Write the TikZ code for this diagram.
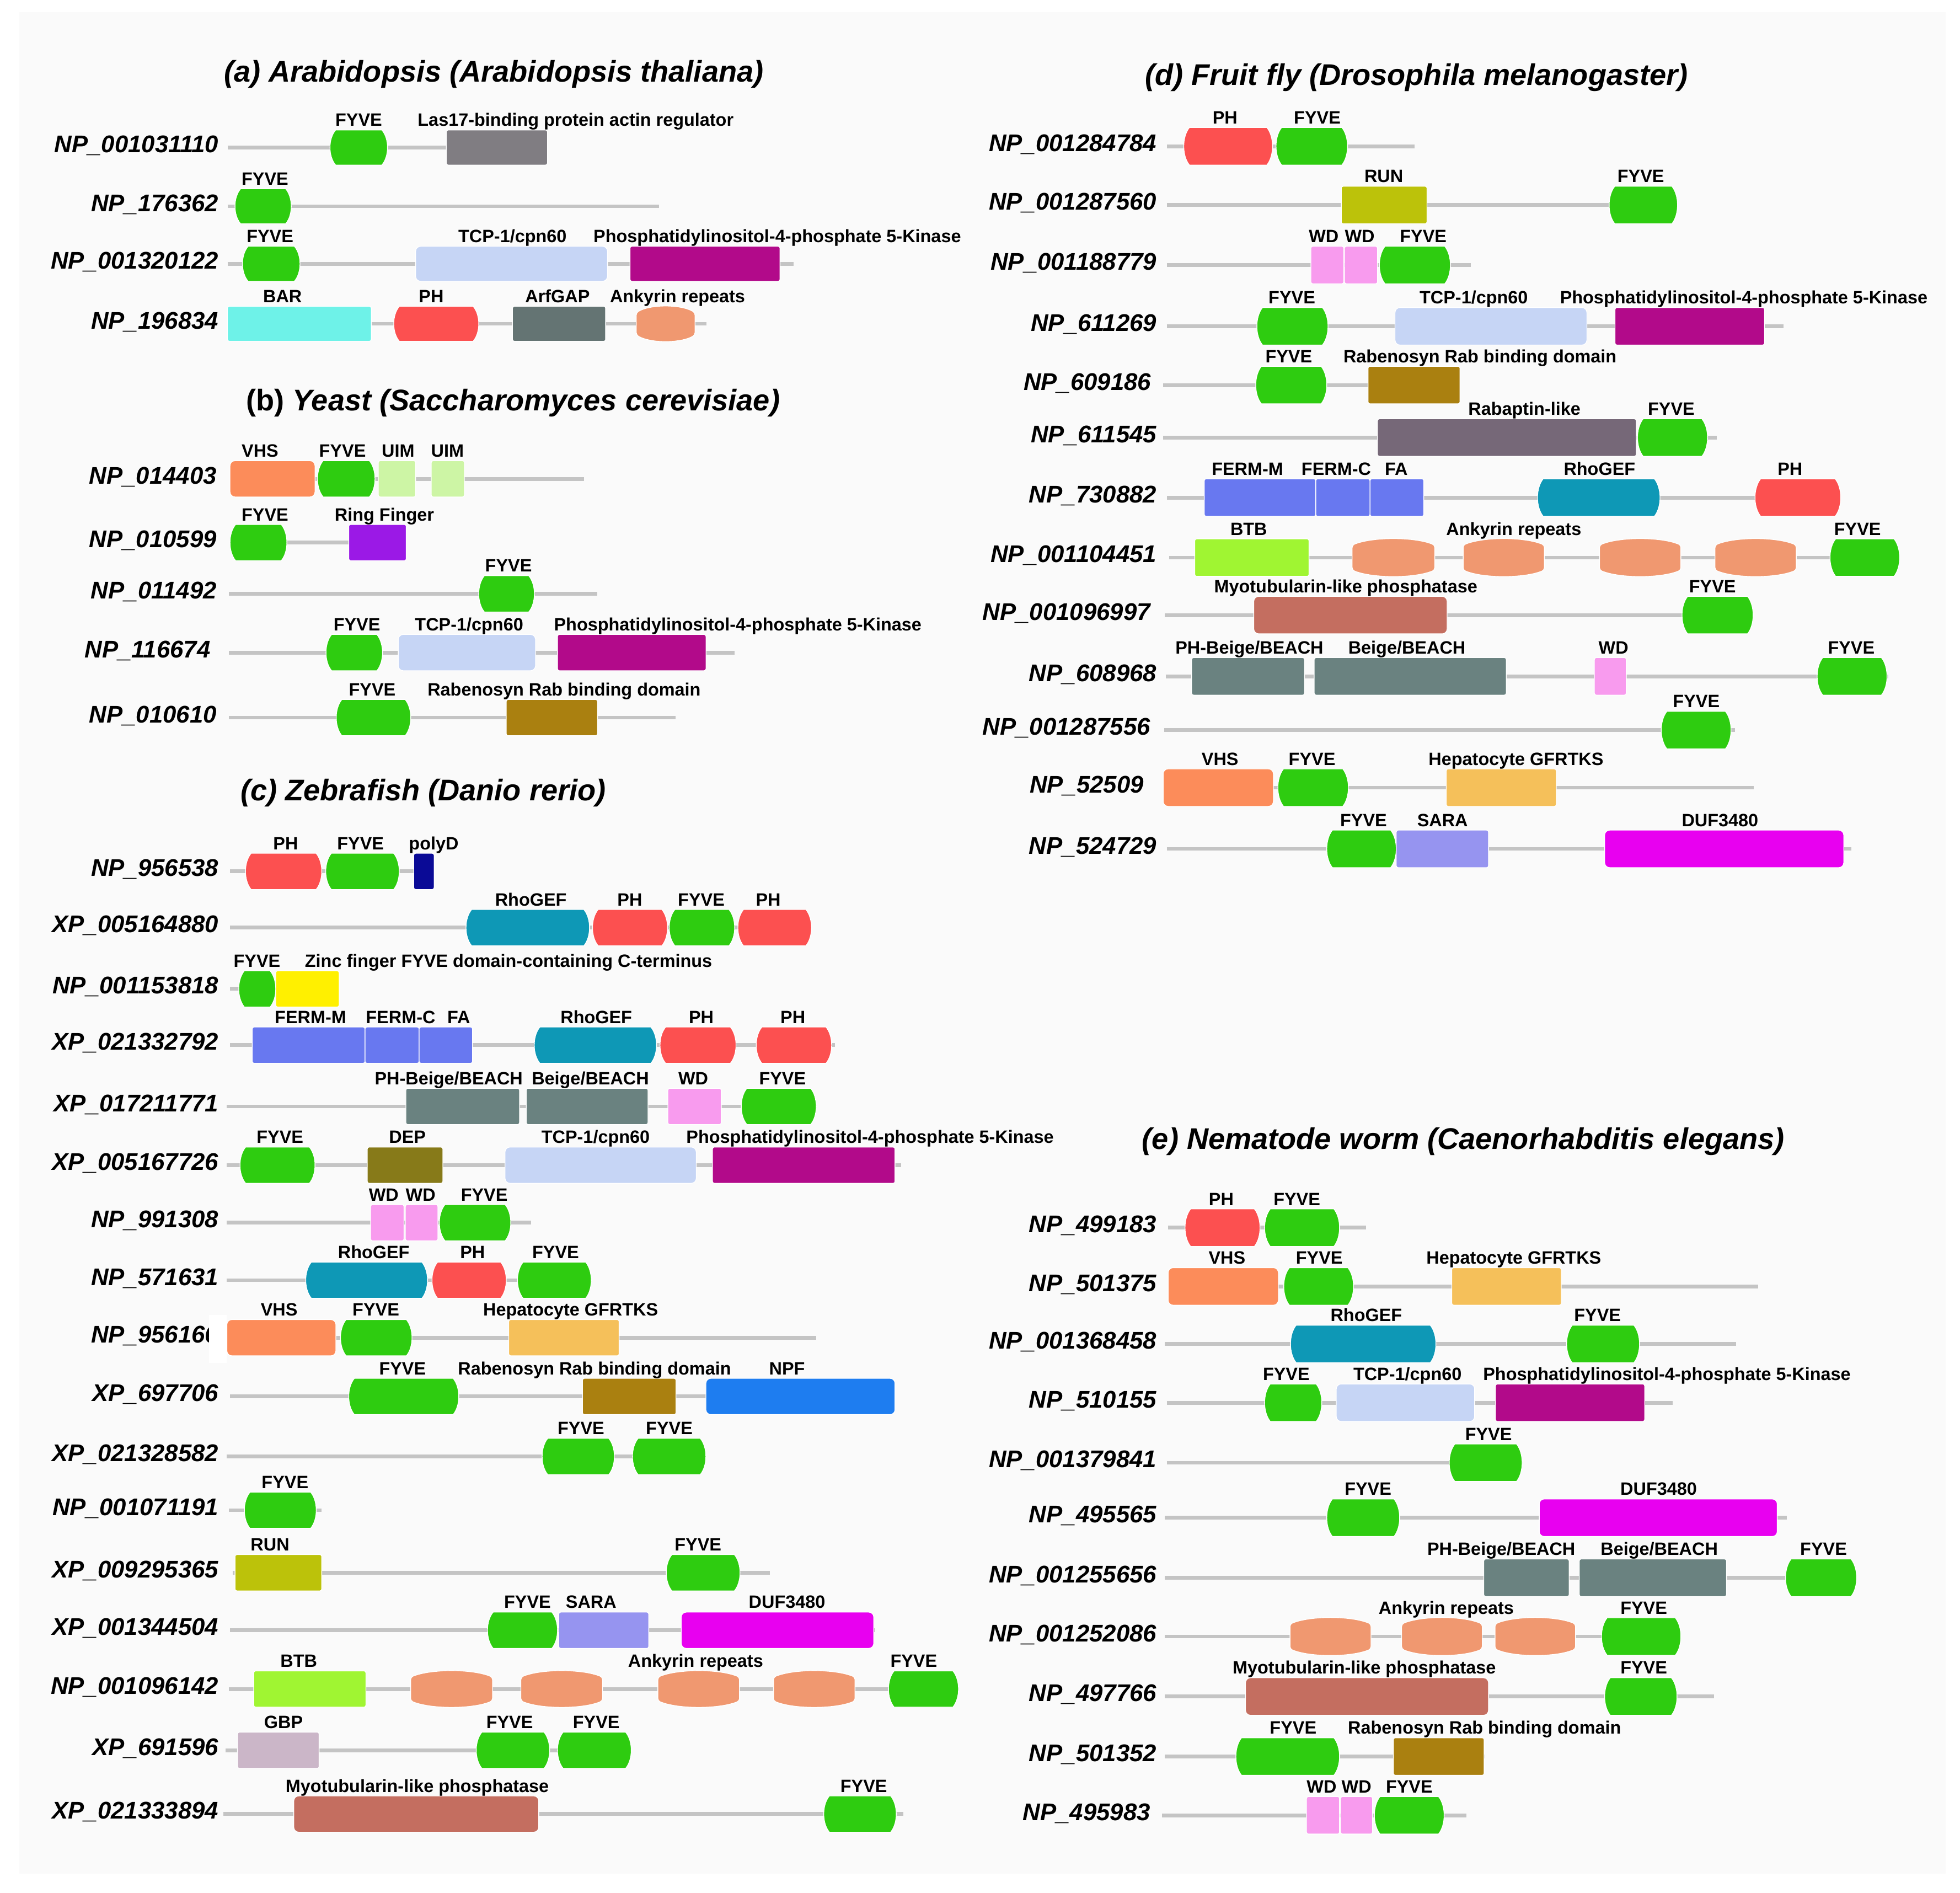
\documentclass[tikz,border=0pt]{standalone}
\usepackage{fontspec}
\setmainfont{Liberation Sans}
\definecolor{cFYVE}{RGB}{46,204,16}
\definecolor{cPH}{RGB}{252,80,80}
\definecolor{cRho}{RGB}{14,152,182}
\definecolor{cAnk}{RGB}{240,152,112}
\definecolor{cBAR}{RGB}{110,242,232}
\definecolor{cArf}{RGB}{100,116,115}
\definecolor{cLas}{RGB}{128,125,130}
\definecolor{cTCP}{RGB}{198,213,245}
\definecolor{cPIK}{RGB}{178,10,138}
\definecolor{cVHS}{RGB}{252,140,90}
\definecolor{cUIM}{RGB}{205,245,165}
\definecolor{cRing}{RGB}{155,25,230}
\definecolor{cRab}{RGB}{170,128,16}
\definecolor{cPolyD}{RGB}{10,10,150}
\definecolor{cZnF}{RGB}{255,240,0}
\definecolor{cFERM}{RGB}{104,120,240}
\definecolor{cBeige}{RGB}{106,130,128}
\definecolor{cWD}{RGB}{248,155,238}
\definecolor{cDEP}{RGB}{135,122,25}
\definecolor{cHep}{RGB}{245,192,90}
\definecolor{cNPF}{RGB}{30,125,240}
\definecolor{cRUN}{RGB}{188,194,10}
\definecolor{cSARA}{RGB}{150,148,240}
\definecolor{cDUF}{RGB}{232,0,240}
\definecolor{cBTB}{RGB}{160,245,50}
\definecolor{cGBP}{RGB}{203,182,200}
\definecolor{cMyo}{RGB}{196,110,96}
\definecolor{cRabap}{RGB}{118,104,120}
\definecolor{cBack}{RGB}{196,196,196}
\definecolor{cBg}{RGB}{250,250,250}
\tikzset{
  backbone/.style={draw=cBack, line width=3},
  domfill/.style={fill=#1, draw=white, line width=0.6},
  domlabel/.style={anchor=base, inner sep=0, font=\bfseries\fontsize{14.3}{15}\selectfont},
  protname/.style={anchor=base east, inner sep=0, font=\bfseries\itshape\fontsize{19.3}{20}\selectfont},
  paneltitle/.style={anchor=base, inner sep=0, font=\bfseries\itshape\fontsize{23.9}{25}\selectfont}
}
\def\hh{14}
\def\bd{4.5}
\def\ar{5}
\newcommand{\bbone}[3]{\draw[backbone] (#1,#3) -- (#2,#3);}
\newcommand{\pname}[3]{\node[protname] at (#1,{#2+4}) {#3};}
\newcommand{\dlab}[3]{\node[domlabel] at (#1,{#2-\hh-3}) {#3};}
\newcommand{\domR}[4]{\path[domfill=#4, rounded corners=1.5] (#1,{#3-\hh}) rectangle (#2,{#3+\hh});}
\newcommand{\domS}[4]{\path[domfill=#4, rounded corners=4] (#1,{#3-\hh}) rectangle (#2,{#3+\hh});}
\newcommand{\domF}[4]{\path[domfill=#4] ({#1+\bd},{#3-\hh}) -- ({#2-\bd},{#3-\hh}) .. controls ({#2+\bd/3},{#3-\hh/2}) and ({#2+\bd/3},{#3+\hh/2}) .. ({#2-\bd},{#3+\hh}) -- ({#1+\bd},{#3+\hh}) .. controls ({#1-\bd/3},{#3+\hh/2}) and ({#1-\bd/3},{#3-\hh/2}) .. ({#1+\bd},{#3-\hh}) -- cycle;}
\newcommand{\domA}[4]{\path[domfill=#4, rounded corners=2] (#1,{#3-\hh+\ar}) .. controls ({#1+(#2-#1)/4},{#3-\hh-\ar/3}) and ({#2-(#2-#1)/4},{#3-\hh-\ar/3}) .. (#2,{#3-\hh+\ar}) -- (#2,{#3+\hh-\ar}) .. controls ({#2-(#2-#1)/4},{#3+\hh+\ar/3}) and ({#1+(#2-#1)/4},{#3+\hh+\ar/3}) .. (#1,{#3+\hh-\ar}) -- cycle;}
\begin{document}
\begin{tikzpicture}[x=1pt,y=-1pt]
\useasboundingbox (0,0) rectangle (1568,1514);
\fill[white] (0,0) rectangle (1568,1514);
\fill[cBg] (15.5,9.7) rectangle (1556.5,1498.8);

% ================= (a) =================
\def\hh{14}
\node[paneltitle] (ta) at (395,65.6) {(a) Arabidopsis (Arabidopsis thaliana)};
% a1
\bbone{182}{438}{118}
\domF{264}{310}{118}{cFYVE}
\domR{357}{438}{118}{cLas}
\dlab{287}{118}{FYVE}
\dlab{460.5}{118}{Las17-binding protein actin regulator}
\pname{175}{118}{NP\_001031110}
% a2
\bbone{182}{527}{165}
\domF{188}{233}{165}{cFYVE}
\dlab{212}{165}{FYVE}
\pname{175}{165}{NP\_176362}
% a3
\bbone{182}{635}{211}
\domF{194}{240}{211}{cFYVE}
\domS{332.5}{486}{211}{cTCP}
\domR{504}{624}{211}{cPIK}
\dlab{216}{211}{FYVE}
\dlab{410}{211}{TCP-1/cpn60}
\dlab{621.8}{211}{Phosphatidylinositol-4-phosphate 5-Kinase}
\pname{175}{211}{NP\_001320122}
% a4
\bbone{182}{565}{259}
\domR{182}{297}{259}{cBAR}
\domF{315}{383}{259}{cPH}
\domR{410}{484.5}{259}{cArf}
\domA{509}{556}{259}{cAnk}
\dlab{226}{259}{BAR}
\dlab{345}{259}{PH}
\dlab{446}{259}{ArfGAP}
\dlab{542}{259}{Ankyrin repeats}
\pname{175}{259}{NP\_196834}

% ================= (b) =================
\def\hh{14.5}
\node[paneltitle] (tb) at (410.5,328.6) {{\upshape (b)} Yeast (Saccharomyces cerevisiae)};
% b1
\bbone{184}{467}{383}
\domS{184}{252}{383}{cVHS}
\domF{254}{300}{383}{cFYVE}
\domR{302.6}{332.5}{383}{cUIM}
\domR{345}{371.5}{383}{cUIM}
\dlab{208}{383}{VHS}
\dlab{274}{383}{FYVE}
\dlab{318.5}{383}{UIM}
\dlab{358}{383}{UIM}
\pname{173.5}{383}{NP\_014403}
% b2
\bbone{184}{325}{434}
\domF{184}{229.5}{434}{cFYVE}
\domR{279}{325}{434}{cRing}
\dlab{212}{434}{FYVE}
\dlab{307.5}{434}{Ring Finger}
\pname{173.5}{434}{NP\_010599}
% b3
\bbone{183}{478}{475}
\domF{383}{427.5}{475}{cFYVE}
\dlab{406.8}{475}{FYVE}
\pname{173.5}{475}{NP\_011492}
% b4
\bbone{183}{587.5}{522}
\domF{260.8}{306}{522}{cFYVE}
\domS{318.6}{428.4}{522}{cTCP}
\domR{446}{564.8}{522}{cPIK}
\dlab{285.5}{522}{FYVE}
\dlab{375.3}{522}{TCP-1/cpn60}
\dlab{590.2}{522}{Phosphatidylinositol-4-phosphate 5-Kinase}
\pname{168.5}{522}{NP\_116674}
% b5
\bbone{183}{540.5}{574}
\domF{269}{328.6}{574}{cFYVE}
\domR{405}{478}{574}{cRab}
\dlab{297.8}{574}{FYVE}
\dlab{451.3}{574}{Rabenosyn Rab binding domain}
\pname{173.5}{574}{NP\_010610}

% ================= (c) =================
\def\hh{14.5}
\node[paneltitle] (tc) at (338.6,640.6) {(c) Zebrafish (Danio rerio)};
% c1
\bbone{184}{347}{697}
\domF{196.4}{257.4}{697}{cPH}
\domF{260.6}{319.4}{697}{cFYVE}
\domR{331}{347.3}{697}{cPolyD}
\dlab{228.5}{697}{PH}
\dlab{288.4}{697}{FYVE}
\dlab{347}{697}{polyD}
\pname{175}{697}{NP\_956538}
% c2
\bbone{184}{649}{742}
\domF{372.8}{471.6}{742}{cRho}
\domF{474}{534}{742}{cPH}
\domF{535.4}{587.7}{742}{cFYVE}
\domF{590.3}{649.2}{742}{cPH}
\dlab{424.7}{742}{RhoGEF}
\dlab{503.8}{742}{PH}
\dlab{561}{742}{FYVE}
\dlab{614.6}{742}{PH}
\pname{175}{742}{XP\_005164880}
% c3
\bbone{184}{271}{791}
\domF{191}{220.6}{791}{cFYVE}
\domR{220.6}{271.3}{791}{cZnF}
\dlab{205.6}{791}{FYVE}
\dlab{406.8}{791}{Zinc finger FYVE domain-containing C-terminus}
\pname{175}{791}{NP\_001153818}
% c4
\bbone{184}{668}{836}
\domR{201.8}{292}{836}{cFERM}
\domR{292}{335.3}{836}{cFERM}
\domR{335.3}{378}{836}{cFERM}
\domF{427.4}{525.2}{836}{cRho}
\domF{528}{588.8}{836}{cPH}
\domF{605}{665.3}{836}{cPH}
\dlab{248.4}{836}{FERM-M}
\dlab{320.5}{836}{FERM-C}
\dlab{367}{836}{FA}
\dlab{477}{836}{RhoGEF}
\dlab{561}{836}{PH}
\dlab{634.3}{836}{PH}
\pname{175}{836}{XP\_021332792}
% c5
\bbone{181.5}{652}{885}
\domR{324.7}{415.6}{885}{cBeige}
\domR{421}{518.4}{885}{cBeige}
\domR{534.3}{577}{885}{cWD}
\domF{593}{653}{885}{cFYVE}
\dlab{359}{885}{PH-Beige/BEACH}
\dlab{472.3}{885}{Beige/BEACH}
\dlab{554.6}{885}{WD}
\dlab{626}{885}{FYVE}
\pname{175}{885}{XP\_017211771}
% c6
\bbone{181.5}{721}{932}
\domF{192}{252}{932}{cFYVE}
\domR{293.8}{354.3}{932}{cDEP}
\domS{404}{557}{932}{cTCP}
\domR{570}{716}{932}{cPIK}
\dlab{224}{932}{FYVE}
\dlab{325.9}{932}{DEP}
\dlab{476.5}{932}{TCP-1/cpn60}
\dlab{696}{932}{Phosphatidylinositol-4-phosphate 5-Kinase}
\pname{175}{932}{XP\_005167726}
% c7
\bbone{181.5}{424.7}{978}
\domR{296.5}{323.2}{978}{cWD}
\domR{324.3}{350.3}{978}{cWD}
\domF{351.5}{408.6}{978}{cFYVE}
\dlab{307}{978}{WD}
\dlab{336.5}{978}{WD}
\dlab{387.4}{978}{FYVE}
\pname{175}{978}{NP\_991308}
% c8
\bbone{181.5}{473}{1024}
\domF{244.6}{342}{1024}{cRho}
\domF{345.6}{405}{1024}{cPH}
\domF{414}{473}{1024}{cFYVE}
\dlab{299}{1024}{RhoGEF}
\dlab{378}{1024}{PH}
\dlab{444.5}{1024}{FYVE}
\pname{175}{1024}{NP\_571631}
% c9
\pname{175}{1070}{NP\_956166}
\fill[white] (167,1052) rectangle (181.5,1090);
\bbone{181.5}{653}{1070}
\domS{181.5}{268.7}{1070}{cVHS}
\domF{272.4}{329.6}{1070}{cFYVE}
\domR{407}{495.3}{1070}{cHep}
\dlab{223.3}{1070}{VHS}
\dlab{300.7}{1070}{FYVE}
\dlab{456.5}{1070}{Hepatocyte GFRTKS}
% c10
\bbone{184}{716}{1117}
\domF{279}{367}{1117}{cFYVE}
\domR{466}{540.8}{1117}{cRab}
\domS{564.7}{716}{1117}{cNPF}
\dlab{322}{1117}{FYVE}
\dlab{475.6}{1117}{Rabenosyn Rab binding domain}
\dlab{629.6}{1117}{NPF}
\pname{175}{1117}{XP\_697706}
% c11
\bbone{181.5}{564.7}{1165}
\domF{433.7}{491.5}{1165}{cFYVE}
\domF{506}{564.7}{1165}{cFYVE}
\dlab{464.8}{1165}{FYVE}
\dlab{535.4}{1165}{FYVE}
\pname{175}{1165}{XP\_021328582}
% c12
\bbone{183}{257.4}{1208}
\domF{195.5}{253}{1208}{cFYVE}
\dlab{228}{1208}{FYVE}
\pname{175}{1208}{NP\_001071191}
% c13
\bbone{186}{616}{1258}
\domR{188}{257.4}{1258}{cRUN}
\domF{533}{592}{1258}{cFYVE}
\dlab{216}{1258}{RUN}
\dlab{558.4}{1258}{FYVE}
\pname{175}{1258}{XP\_009295365}
% c14
\bbone{184}{700}{1304}
\domF{390}{446}{1304}{cFYVE}
\domR{447}{519}{1304}{cSARA}
\domS{545}{699}{1304}{cDUF}
\dlab{422}{1304}{FYVE}
\dlab{472.9}{1304}{SARA}
\dlab{629.6}{1304}{DUF3480}
\pname{175}{1304}{XP\_001344504}
% c15
\bbone{183}{767}{1351}
\domR{203}{292.7}{1351}{cBTB}
\domA{328.5}{394}{1351}{cAnk}
\domA{416.7}{482}{1351}{cAnk}
\domA{526.3}{591.6}{1351}{cAnk}
\domA{618.8}{684}{1351}{cAnk}
\domF{710.8}{766.8}{1351}{cFYVE}
\dlab{239}{1351}{BTB}
\dlab{556.5}{1351}{Ankyrin repeats}
\dlab{731}{1351}{FYVE}
\pname{175}{1351}{NP\_001096142}
% c16
\bbone{180.5}{505}{1400}
\domR{190}{255.3}{1400}{cGBP}
\domF{381}{439.7}{1400}{cFYVE}
\domF{446}{505}{1400}{cFYVE}
\dlab{226.8}{1400}{GBP}
\dlab{407.7}{1400}{FYVE}
\dlab{477}{1400}{FYVE}
\pname{175}{1400}{XP\_691596}
% c17
\bbone{178.8}{722.5}{1451}
\domS{235}{431}{1451}{cMyo}
\domF{659}{717}{1451}{cFYVE}
\dlab{333.8}{1451}{Myotubularin-like phosphatase}
\dlab{691}{1451}{FYVE}
\pname{175}{1451}{XP\_021333894}

% ================= (d) =================
\def\hh{15}
\node[paneltitle] (td) at (1133.2,68.2) {(d) Fruit fly (Drosophila melanogaster)};
% d1
\bbone{933.5}{1131.5}{117}
\domF{947}{1018}{117}{cPH}
\domF{1020.8}{1078}{117}{cFYVE}
\dlab{980}{117}{PH}
\dlab{1053.8}{117}{FYVE}
\pname{925.4}{117}{NP\_001284784}
% d2
\bbone{933.5}{1342}{164}
\domR{1073}{1141.6}{164}{cRUN}
\domF{1287.3}{1342}{164}{cFYVE}
\dlab{1107}{164}{RUN}
\dlab{1312.6}{164}{FYVE}
\pname{925.4}{164}{NP\_001287560}
% d3
\bbone{933.5}{1176.6}{212}
\domR{1048.7}{1075}{212}{cWD}
\domR{1075.6}{1102}{212}{cWD}
\domF{1103.5}{1160.3}{212}{cFYVE}
\dlab{1059}{212}{WD}
\dlab{1087.8}{212}{WD}
\dlab{1138.6}{212}{FYVE}
\pname{925.4}{212}{NP\_001188779}
% d4
\bbone{933.5}{1427}{261}
\domF{1005.5}{1062.4}{261}{cFYVE}
\domS{1116}{1269.5}{261}{cTCP}
\domR{1292}{1411.6}{261}{cPIK}
\dlab{1033.5}{261}{FYVE}
\dlab{1179}{261}{TCP-1/cpn60}
\dlab{1395}{261}{Phosphatidylinositol-4-phosphate 5-Kinase}
\pname{925.4}{261}{NP\_611269}
% d5
\bbone{930.5}{1168}{308}
\domF{1004.6}{1061.4}{308}{cFYVE}
\domR{1094.4}{1168}{308}{cRab}
\dlab{1031}{308}{FYVE}
\dlab{1184}{308}{Rabenosyn Rab binding domain}
\pname{921}{308}{NP\_609186}
% d6
\bbone{930.5}{1373.6}{350}
\domR{1102}{1309}{350}{cRabap}
\domF{1310}{1366}{350}{cFYVE}
\dlab{1219.5}{350}{Rabaptin-like}
\dlab{1337}{350}{FYVE}
\pname{925.4}{350}{NP\_611545}
% d7
\bbone{933.5}{1472.6}{398}
\domR{963.4}{1052.6}{398}{cFERM}
\domR{1052.6}{1096}{398}{cFERM}
\domR{1096}{1139}{398}{cFERM}
\domF{1230}{1328}{398}{cRho}
\domF{1404}{1472.6}{398}{cPH}
\dlab{998}{398}{FERM-M}
\dlab{1069}{398}{FERM-C}
\dlab{1117}{398}{FA}
\dlab{1279.6}{398}{RhoGEF}
\dlab{1432}{398}{PH}
\pname{925.4}{398}{NP\_730882}
% d8
\bbone{935.5}{1518}{446}
\domR{955.8}{1047.2}{446}{cBTB}
\domA{1081.7}{1147.8}{446}{cAnk}
\domA{1170.5}{1235.5}{446}{cAnk}
\domA{1279.6}{1344.7}{446}{cAnk}
\domA{1372}{1437}{446}{cAnk}
\domF{1464}{1519.7}{446}{cFYVE}
\dlab{999}{446}{BTB}
\dlab{1211}{446}{Ankyrin repeats}
\dlab{1486}{446}{FYVE}
\pname{925.4}{446}{NP\_001104451}
% d9
\bbone{932}{1401.5}{492}
\domS{1003}{1157.7}{492}{cMyo}
\domF{1345.6}{1402.5}{492}{cFYVE}
\dlab{1076.6}{492}{Myotubularin-like phosphatase}
\dlab{1370}{492}{FYVE}
\pname{920.4}{492}{NP\_001096997}
% d10
\bbone{932.5}{1510.6}{541}
\domR{953.3}{1043.6}{541}{cBeige}
\domR{1051.3}{1205}{541}{cBeige}
\domR{1275.5}{1301}{541}{cWD}
\domF{1453.7}{1509.6}{541}{cFYVE}
\dlab{999.5}{541}{PH-Beige/BEACH}
\dlab{1125.5}{541}{Beige/BEACH}
\dlab{1290.8}{541}{WD}
\dlab{1481}{541}{FYVE}
\pname{925.4}{541}{NP\_608968}
% d11
\bbone{931.5}{1387.8}{584}
\domF{1329}{1384.8}{584}{cFYVE}
\dlab{1357}{584}{FYVE}
\pname{920.4}{584}{NP\_001287556}
% d12
\bbone{930.5}{1403}{630}
\domS{930.5}{1018.7}{630}{cVHS}
\domF{1022.3}{1078.7}{630}{cFYVE}
\domR{1157}{1245}{630}{cHep}
\dlab{976}{630}{VHS}
\dlab{1049.6}{630}{FYVE}
\dlab{1212.8}{630}{Hepatocyte GFRTKS}
\pname{915.2}{630}{NP\_52509}
% d13
\bbone{933.5}{1481}{679}
\domF{1061.4}{1117}{679}{cFYVE}
\domR{1117}{1190.8}{679}{cSARA}
\domS{1283.7}{1475}{679}{cDUF}
\dlab{1090.8}{679}{FYVE}
\dlab{1154}{679}{SARA}
\dlab{1376}{679}{DUF3480}
\pname{925.4}{679}{NP\_524729}

% ================= (e) =================
\def\hh{15}
\node[paneltitle] (te) at (1170.6,919.2) {(e) Nematode worm (Caenorhabditis elegans)};
% e1
\bbone{934.5}{1093}{982}
\domF{948}{1008}{982}{cPH}
\domF{1011.7}{1071.6}{982}{cFYVE}
\dlab{977}{982}{PH}
\dlab{1037.5}{982}{FYVE}
\pname{925.4}{982}{NP\_499183}
% e2
\bbone{934.5}{1406.5}{1029}
\domS{934.5}{1022.7}{1029}{cVHS}
\domF{1027}{1082.8}{1029}{cFYVE}
\domR{1161.4}{1249}{1029}{cHep}
\dlab{981.6}{1029}{VHS}
\dlab{1055.4}{1029}{FYVE}
\dlab{1211}{1029}{Hepatocyte GFRTKS}
\pname{925.4}{1029}{NP\_501375}
% e3
\bbone{932}{1389}{1075}
\domF{1032.4}{1148.7}{1075}{cRho}
\domF{1253.3}{1311.6}{1075}{cFYVE}
\dlab{1093}{1075}{RhoGEF}
\dlab{1278}{1075}{FYVE}
\pname{925.4}{1075}{NP\_001368458}
% e4
\bbone{933.5}{1338}{1122}
\domF{1011.7}{1057.4}{1122}{cFYVE}
\domS{1069}{1179.7}{1122}{cTCP}
\domR{1196.4}{1315.7}{1122}{cPIK}
\dlab{1029}{1122}{FYVE}
\dlab{1126}{1122}{TCP-1/cpn60}
\dlab{1333.5}{1122}{Phosphatidylinositol-4-phosphate 5-Kinase}
\pname{925.4}{1122}{NP\_510155}
% e5
\bbone{933.5}{1217.7}{1170}
\domF{1159.4}{1217.7}{1170}{cFYVE}
\dlab{1190.8}{1170}{FYVE}
\pname{925.4}{1170}{NP\_001379841}
% e6
\bbone{932}{1429.5}{1214}
\domF{1061.4}{1119.7}{1214}{cFYVE}
\domS{1231.4}{1421.8}{1214}{cDUF}
\dlab{1094.4}{1214}{FYVE}
\dlab{1326.9}{1214}{DUF3480}
\pname{925.4}{1214}{NP\_495565}
% e7
\bbone{932}{1485.3}{1262}
\domR{1187}{1255.3}{1262}{cBeige}
\domR{1263.4}{1381.2}{1262}{cBeige}
\domF{1428.4}{1485.3}{1262}{cFYVE}
\dlab{1201}{1262}{PH-Beige/BEACH}
\dlab{1327.4}{1262}{Beige/BEACH}
\dlab{1458.8}{1262}{FYVE}
\pname{925.4}{1262}{NP\_001255656}
% e8
\bbone{932}{1344.7}{1309}
\domA{1032}{1096.8}{1309}{cAnk}
\domA{1121.3}{1185.8}{1309}{cAnk}
\domA{1196}{1260.4}{1309}{cAnk}
\domF{1281.2}{1344.7}{1309}{cFYVE}
\dlab{1157}{1309}{Ankyrin repeats}
\dlab{1315}{1309}{FYVE}
\pname{925.4}{1309}{NP\_001252086}
% e9
\bbone{932}{1371}{1357}
\domS{996.4}{1190.8}{1357}{cMyo}
\domF{1283.7}{1341.6}{1357}{cFYVE}
\dlab{1091.4}{1357}{Myotubularin-like phosphatase}
\dlab{1315}{1357}{FYVE}
\pname{925.4}{1357}{NP\_497766}
% e10
\bbone{932}{1188.3}{1405}
\domF{988.7}{1071.6}{1405}{cFYVE}
\domR{1114.7}{1187.3}{1405}{cRab}
\dlab{1034.5}{1405}{FYVE}
\dlab{1187.6}{1405}{Rabenosyn Rab binding domain}
\pname{925.4}{1405}{NP\_501352}
% e11
\bbone{929.5}{1173}{1452}
\domR{1045.2}{1071.6}{1452}{cWD}
\domR{1072.5}{1098}{1452}{cWD}
\domF{1099.5}{1155.3}{1452}{cFYVE}
\dlab{1057.3}{1452}{WD}
\dlab{1085.2}{1452}{WD}
\dlab{1127.4}{1452}{FYVE}
\pname{920.4}{1452}{NP\_495983}
\end{tikzpicture}
\end{document}
